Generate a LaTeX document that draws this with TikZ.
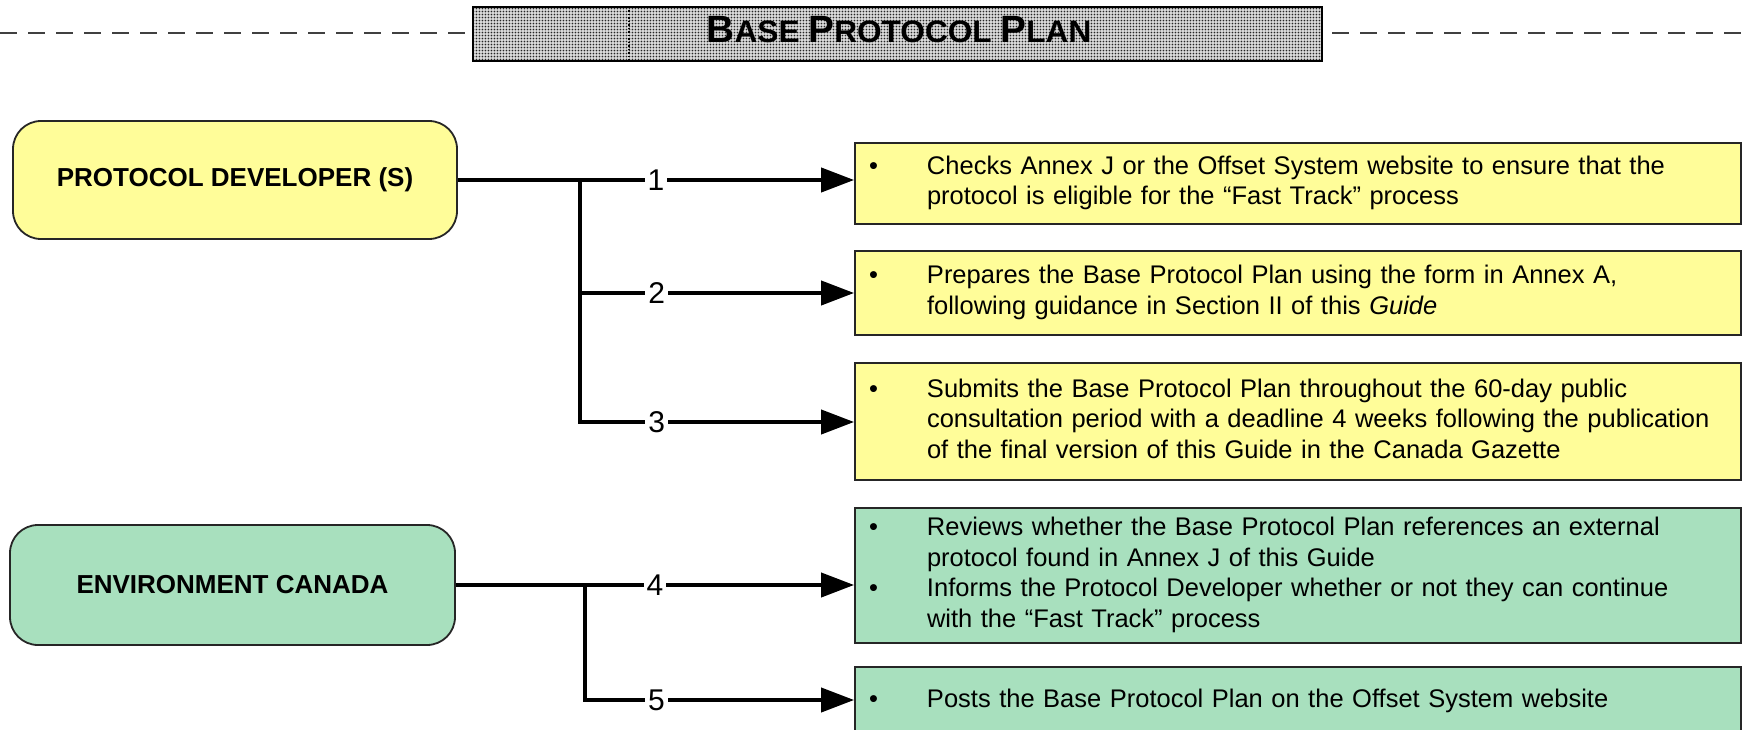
\documentclass[tikz,border=0pt]{standalone}
\usepackage{fontspec}
\setmainfont{Liberation Sans}
\usetikzlibrary{patterns}
\usetikzlibrary{arrows.meta}
\definecolor{pdyellow}{RGB}{255,253,153}
\definecolor{ecgreen}{RGB}{168,224,190}
\pgfdeclarepatternformonly{halftone}{\pgfpointorigin}{\pgfqpoint{3.4pt}{3.4pt}}{\pgfqpoint{3.4pt}{3.4pt}}{\pgfpathcircle{\pgfqpoint{1.7pt}{1.7pt}}{1.1pt}\pgfusepath{fill}}
\newenvironment{bullets}{\begin{tabular}{@{}p{58pt}@{}p{820pt}@{}}}{\end{tabular}}
\newcommand{\titlecap}[1]{{\fontsize{38}{38}\selectfont #1}}
\tikzset{
	actor/.style={draw=black!85,line width=1.8pt,rounded corners=28pt,align=center,font=\fontsize{26}{30}\selectfont\bfseries},
	task/.style={draw=black!85,line width=1.8pt,minimum width=886pt,text width=858pt,inner xsep=14pt,inner ysep=0pt,align=left,font=\fontsize{25.5}{30.5}\selectfont},
	link/.style={line width=4pt},
	stepno/.style={fill=white,inner xsep=3pt,inner ysep=1pt,font=\fontsize{30}{30}\selectfont}
}

\begin{document}
\begin{tikzpicture}[line join=miter,>={Triangle[length=33pt,width=24pt]},x=1pt,y=-1pt]
		\useasboundingbox (0,0) rectangle (1742,730);
		\clip (0,0) rectangle (1742,730);
		\draw [line width=2.5pt,color=black!75,dash pattern=on 17pt off 11pt] (0,33)-- (466,33);
		\draw [line width=2.5pt,color=black!75,dash pattern=on 17pt off 11pt] (1332,33)-- (1742,33);
		\draw [line width=1.5pt,preaction={fill=black!15},pattern=halftone,pattern color=black!85] (473,7) rectangle (1322,61);
		\draw [line width=1.5pt,dotted] (629,7)-- (629,61);
		\node [anchor=base] (title) at (899,43) {\scalebox{1.02}[1]{\fontsize{31}{31}\selectfont\bfseries \titlecap{B}ASE \titlecap{P}ROTOCOL \titlecap{P}LAN}};
		\node [actor,fill=pdyellow,minimum width=444pt,minimum height=118pt] (pd) at (235,180) {PROTOCOL DEVELOPER (S)};
		\node [actor,fill=ecgreen,minimum width=445pt,minimum height=120pt] (ec) at (232.5,585) {ENVIRONMENT CANADA};
		\node [task,fill=pdyellow,minimum height=81pt] (r1) at (1298,183.5) {\begin{bullets}
			\textbullet & Checks Annex J or the Offset System website to ensure that the\newline protocol is eligible for the “Fast Track” process\\
		\end{bullets}};
		\node [task,fill=pdyellow,minimum height=84pt] (r2) at (1298,293) {\begin{bullets}
			\textbullet & Prepares the Base Protocol Plan using the form in Annex A,\newline following guidance in Section II of this \textit{Guide}\\
		\end{bullets}};
		\node [task,fill=pdyellow,minimum height=117pt] (r3) at (1298,421.5) {\begin{bullets}
			\textbullet & Submits the Base Protocol Plan throughout the 60-day public\newline consultation period with a deadline 4 weeks following the publication\newline of the final version of this Guide in the Canada Gazette\\
		\end{bullets}};
		\node [task,fill=ecgreen,minimum height=135pt] (r4) at (1298,575.5) {\begin{bullets}
			\textbullet & Reviews whether the Base Protocol Plan references an external\newline protocol found in Annex J of this Guide\\
			\textbullet & Informs the Protocol Developer whether or not they can continue\newline with the “Fast Track” process\\
		\end{bullets}};
		\node [task,fill=ecgreen,minimum height=68pt] (r5) at (1298,701) {\begin{bullets}
			\textbullet & Posts the Base Protocol Plan on the Offset System website\\
		\end{bullets}};
		\coordinate (ja) at (580,180);
		\coordinate (jb) at (580,293);
		\coordinate (jc) at (580,422);
		\coordinate (jd) at (585,585);
		\coordinate (je) at (585,700);
		\draw [link,->] (pd.east)-- node[stepno] {1} (pd.east -| r1.west);
		\draw [link,->] (jb)-- node[stepno,pos=0.28] {2} (jb -| r2.west);
		\draw [link,->] (ja) |- node[stepno,pos=0.64] {3} (jc -| r3.west);
		\draw [link,->] (ec.east)-- node[stepno] {4} (ec.east -| r4.west);
		\draw [link,->] (jd) |- node[stepno,pos=0.633] {5} (je -| r5.west);
	\end{tikzpicture}
\end{document}
